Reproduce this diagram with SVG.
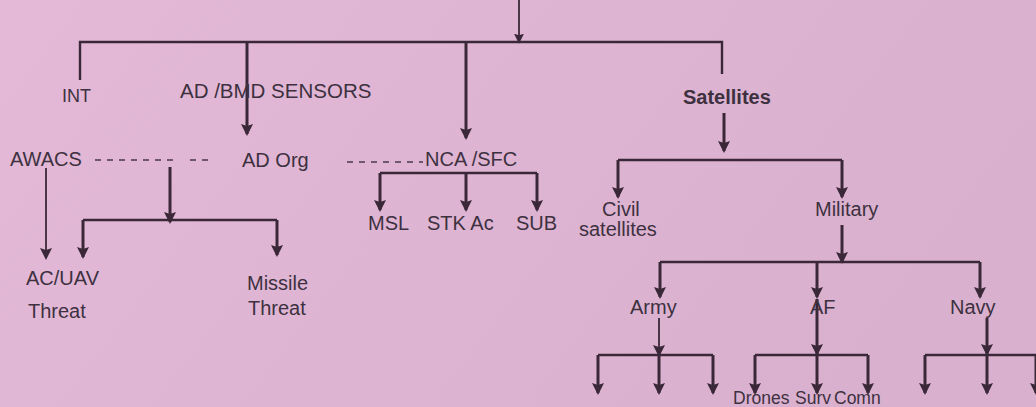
<svg xmlns="http://www.w3.org/2000/svg" width="1036" height="407" viewBox="0 0 1036 407">
  <defs>
    <linearGradient id="bg" x1="0" y1="0" x2="1" y2="0.3">
      <stop offset="0" stop-color="#e4b9d8"/>
      <stop offset="1" stop-color="#dab0cf"/>
    </linearGradient>
    <marker id="ah" viewBox="0 0 12 12" markerWidth="12" markerHeight="13" refX="10" refY="6" orient="auto" markerUnits="userSpaceOnUse">
      <path d="M0,0 L12,6 L0,12 L2,6 z" fill="#3a2838"/>
    </marker>
    <marker id="ahs" viewBox="0 0 12 12" markerWidth="10" markerHeight="11" refX="10" refY="6" orient="auto" markerUnits="userSpaceOnUse">
      <path d="M0,0 L12,6 L0,12 L2,6 z" fill="#3a2838"/>
    </marker>
    <style>
      .t { font-family: "Liberation Sans", Arial, sans-serif; font-size: 20px; fill: #3d3140; }
      .b { font-weight: bold; font-size: 20px; }
      .s { font-size: 17.5px; }
      .ln { fill: none; stroke: #3a2838; stroke-width: 2.4; }
      .th { stroke-width: 3; }
      .tn { stroke-width: 1.8; }
      .ar { marker-end: url(#ah); }
      .as { marker-end: url(#ahs); }
      .d1 { fill: none; stroke: #4a3a4a; stroke-width: 1.6; stroke-dasharray: 6 6; }
    </style>
  </defs>
  <rect x="0" y="0" width="1036" height="407" fill="url(#bg)"/>

  <g id="connectors">
    <path class="ln tn as" d="M519,0 V42"/>
    <path class="ln" d="M80,80 V42 H722 V74"/>
    <path class="ln th ar" d="M247,42 V134"/>
    <path class="ln th ar" d="M466,42 V138"/>

    <path class="ln th ar" d="M724,113 V151"/>
    <path class="ln" d="M618,160 H842"/>
    <path class="ln th ar" d="M618,160 V197"/>
    <path class="ln th ar" d="M842,160 V197"/>

    <path class="ln th ar" d="M842,225 V262"/>
    <path class="ln" d="M660,262 H980"/>
    <path class="ln th ar" d="M660,262 V297"/>
    <path class="ln th ar" d="M817,262 V297"/>
    <path class="ln th ar" d="M980,262 V297"/>

    <path class="ln tn ar" d="M659,318 V355"/>
    <path class="ln" d="M598,355 H713"/>
    <path class="ln th ar" d="M598,355 V393"/>
    <path class="ln th ar" d="M659,355 V393"/>
    <path class="ln th ar" d="M713,355 V393"/>

    <path class="ln th ar" d="M817,299 V354"/>
    <path class="ln" d="M755,355 H868"/>
    <path class="ln th ar" d="M755,355 V393"/>
    <path class="ln th ar" d="M817,355 V393"/>
    <path class="ln th ar" d="M868,355 V393"/>

    <path class="ln th ar" d="M987,318 V354"/>
    <path class="ln" d="M925,355 H1040"/>
    <path class="ln th ar" d="M925,355 V393"/>
    <path class="ln th ar" d="M987,355 V393"/>
    <path class="ln th ar" d="M1036,355 V393"/>

    <path class="ln tn ar" d="M46,168 V258"/>
    <path class="ln th ar" d="M170,167 V222"/>
    <path class="ln" d="M83,220 H277"/>
    <path class="ln th ar" d="M83,220 V257"/>
    <path class="ln th ar" d="M277,220 V255"/>

    <path class="ln" d="M380,173 H537"/>
    <path class="ln th ar" d="M380,173 V210"/>
    <path class="ln th ar" d="M466,173 V210"/>
    <path class="ln th ar" d="M537,173 V210"/>

    <path class="d1" d="M95,160 H178"/>
    <path class="d1" d="M190,160 H211"/>
    <path class="d1" d="M347,162 H423"/>
  </g>

  <g id="int"><text class="t" x="62" y="102" style="font-size:18px">INT</text></g>
  <g id="adbmd"><text class="t" x="180" y="98" style="font-size:20.5px">AD /BMD SENSORS</text></g>
  <g id="satellites"><text class="t b" x="683" y="104">Satellites</text></g>
  <g id="awacs"><text class="t" x="10" y="166">AWACS</text></g>
  <g id="adorg"><text class="t" x="242" y="167">AD Org</text></g>
  <g id="ncasfc"><text class="t" x="425" y="166">NCA /SFC</text></g>
  <g id="acuav">
    <text class="t" x="26" y="285">AC/UAV</text>
    <text class="t" x="28" y="318">Threat</text>
  </g>
  <g id="missile">
    <text class="t" x="247" y="290">Missile</text>
    <text class="t" x="248" y="315">Threat</text>
  </g>
  <g id="msl"><text class="t" x="368" y="230">MSL</text></g>
  <g id="stkac"><text class="t" x="427" y="230">STK Ac</text></g>
  <g id="sub"><text class="t" x="516" y="230">SUB</text></g>
  <g id="civil">
    <text class="t" x="602" y="216">Civil</text>
    <text class="t" x="579" y="236">satellites</text>
  </g>
  <g id="military"><text class="t" x="815" y="216">Military</text></g>
  <g id="army"><text class="t" x="630" y="314">Army</text></g>
  <g id="af"><text class="t" x="810" y="314">AF</text></g>
  <g id="navy"><text class="t" x="950" y="314">Navy</text></g>
  <g id="drones"><text class="t s" x="733" y="404">Drones</text></g>
  <g id="surv"><text class="t s" x="795" y="404">Surv</text></g>
  <g id="comn"><text class="t s" x="834" y="404">Comn</text></g>
</svg>
